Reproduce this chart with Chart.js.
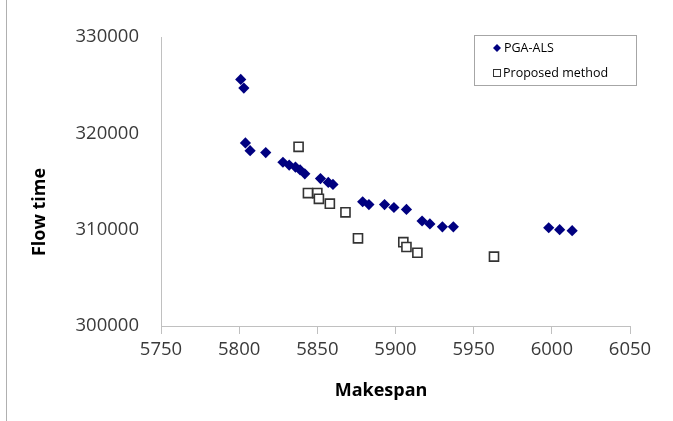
<!DOCTYPE html>
<html>
<head>
<meta charset="utf-8">
<script src="https://cdn.jsdelivr.net/npm/chart.js@4.4.1/dist/chart.umd.min.js"></script>
<style>
  html, body { margin: 0; padding: 0; background: #fff; }
  #wrap { position: relative; width: 673px; height: 421px; }
  #frame { position: absolute; left: 6px; top: 0; width: 0; height: 421px; border-left: 1.5px solid #b0b0b0; }
  canvas { position: absolute; left: 0; top: 0; }
</style>
</head>
<body>
<div id="wrap">
  <canvas id="c" width="673" height="421"></canvas>
  <div id="frame"></div>
</div>
<script>
// PGA-ALS solutions (makespan, flow time)
const pgaMakespan = [5801, 5803, 5804, 5807, 5817, 5828, 5832, 5836, 5839, 5842, 5852, 5857, 5860,
                     5879, 5883, 5893, 5899, 5907, 5917, 5922, 5930, 5937, 5998, 6005, 6013];
const pgaFlow = [325600, 324700, 319000, 318200, 318000, 317000, 316700, 316500, 316200, 315800, 315300, 314900, 314700,
                 312900, 312600, 312600, 312300, 312100, 310900, 310600, 310300, 310300, 310200, 310000, 309900];

// Proposed method solutions
const propMakespan = [5838, 5844, 5850, 5851, 5858, 5868, 5876, 5905, 5907, 5914, 5963];
const propFlow = [318600, 313800, 313800, 313200, 312700, 311800, 309100, 308700, 308200, 307600, 307200];

// Axis ranges and tick labels
const xTicks = [5750, 5800, 5850, 5900, 5950, 6000, 6050];
const yTicks = [300000, 310000, 320000, 330000];

const seriesNames = ['PGA-ALS', 'Proposed method'];
const xTitle = 'Makespan';
const yTitle = 'Flow time';

const toPoints = (xs, ys) => xs.map((x, i) => ({ x: x, y: ys[i] }));

const NAVY = '#000080';
const SQ_EDGE = '#333333';
const AXIS = '#c0c0c0';
const TICK_TXT = '#3a3a3a';

// Legend box and axis titles drawn on top of the chart
const overlay = {
  id: 'overlay',
  afterDraw(chart) {
    const ctx = chart.ctx;
    ctx.save();

    // axis titles
    ctx.fillStyle = '#000';
    ctx.font = 'bold 18px "Open Sans"';
    ctx.textAlign = 'center';
    ctx.textBaseline = 'middle';
    ctx.fillText(xTitle, 381, 391);
    ctx.translate(40, 212);
    ctx.rotate(-Math.PI / 2);
    ctx.fillText(yTitle, 0, 0);
    ctx.setTransform(1, 0, 0, 1, 0, 0);

    // legend
    const bx = 474.5, by = 35.5, bw = 162, bh = 50;
    ctx.strokeStyle = '#a6a6a6';
    ctx.lineWidth = 1;
    ctx.strokeRect(bx, by, bw, bh);

    const ds = chart.data.datasets;
    // diamond marker
    ctx.fillStyle = ds[0].backgroundColor;
    ctx.beginPath();
    const dx = 497, dy = 48, r = 4;
    ctx.moveTo(dx - r, dy); ctx.lineTo(dx, dy - r); ctx.lineTo(dx + r, dy); ctx.lineTo(dx, dy + r);
    ctx.closePath(); ctx.fill();
    // square marker
    ctx.fillStyle = '#fff';
    ctx.strokeStyle = ds[1].borderColor;
    ctx.lineWidth = 1;
    ctx.fillRect(493.5, 69.5, 7, 7);
    ctx.strokeRect(493.5, 69.5, 7, 7);

    ctx.fillStyle = '#000';
    ctx.font = '12.5px "Open Sans"';
    ctx.textAlign = 'left';
    ctx.textBaseline = 'middle';
    ctx.fillText(seriesNames[0], 504, 48.5);
    ctx.fillText(seriesNames[1], 503, 73);
    ctx.restore();
  }
};

new Chart(document.getElementById('c'), {
  type: 'scatter',
  data: {
    datasets: [
      {
        label: seriesNames[0],
        data: toPoints(pgaMakespan, pgaFlow),
        pointStyle: 'rectRot',
        pointRadius: 5.6,
        backgroundColor: NAVY,
        borderColor: NAVY,
        borderWidth: 0
      },
      {
        label: seriesNames[1],
        data: toPoints(propMakespan, propFlow),
        pointStyle: 'rect',
        pointRadius: 6.4,
        backgroundColor: '#ffffff',
        borderColor: SQ_EDGE,
        borderWidth: 1.6
      }
    ]
  },
  options: {
    responsive: false,
    animation: false,
    events: [],
    layout: { padding: { left: 0, top: 37, right: 43, bottom: 0 } },
    plugins: { legend: { display: false }, tooltip: { enabled: false } },
    scales: {
      x: {
        type: 'linear',
        min: xTicks[0],
        max: xTicks[xTicks.length - 1],
        afterFit: s => { s.height = 95; },
        afterBuildTicks: s => { s.ticks = xTicks.map(v => ({ value: v })); },
        grid: { display: true, drawOnChartArea: false, drawTicks: true, tickLength: 8, color: AXIS, lineWidth: 1 },
        border: { display: true, color: AXIS, width: 1 },
        ticks: { color: TICK_TXT, font: { family: 'Open Sans', size: 18.5 }, padding: 5, maxRotation: 0, autoSkip: false,
                 callback: v => String(v) }
      },
      y: {
        type: 'linear',
        min: yTicks[0],
        max: yTicks[yTicks.length - 1],
        afterFit: s => { s.width = 161; },
        afterBuildTicks: s => { s.ticks = yTicks.map(v => ({ value: v })); },
        grid: { display: true, drawOnChartArea: false, drawTicks: false, color: AXIS },
        border: { display: true, color: AXIS, width: 1 },
        ticks: { color: TICK_TXT, font: { family: 'Open Sans', size: 18.5 }, padding: 22, autoSkip: false,
                 callback: v => String(v) }
      }
    }
  },
  plugins: [overlay]
});
</script>
</body>
</html>
